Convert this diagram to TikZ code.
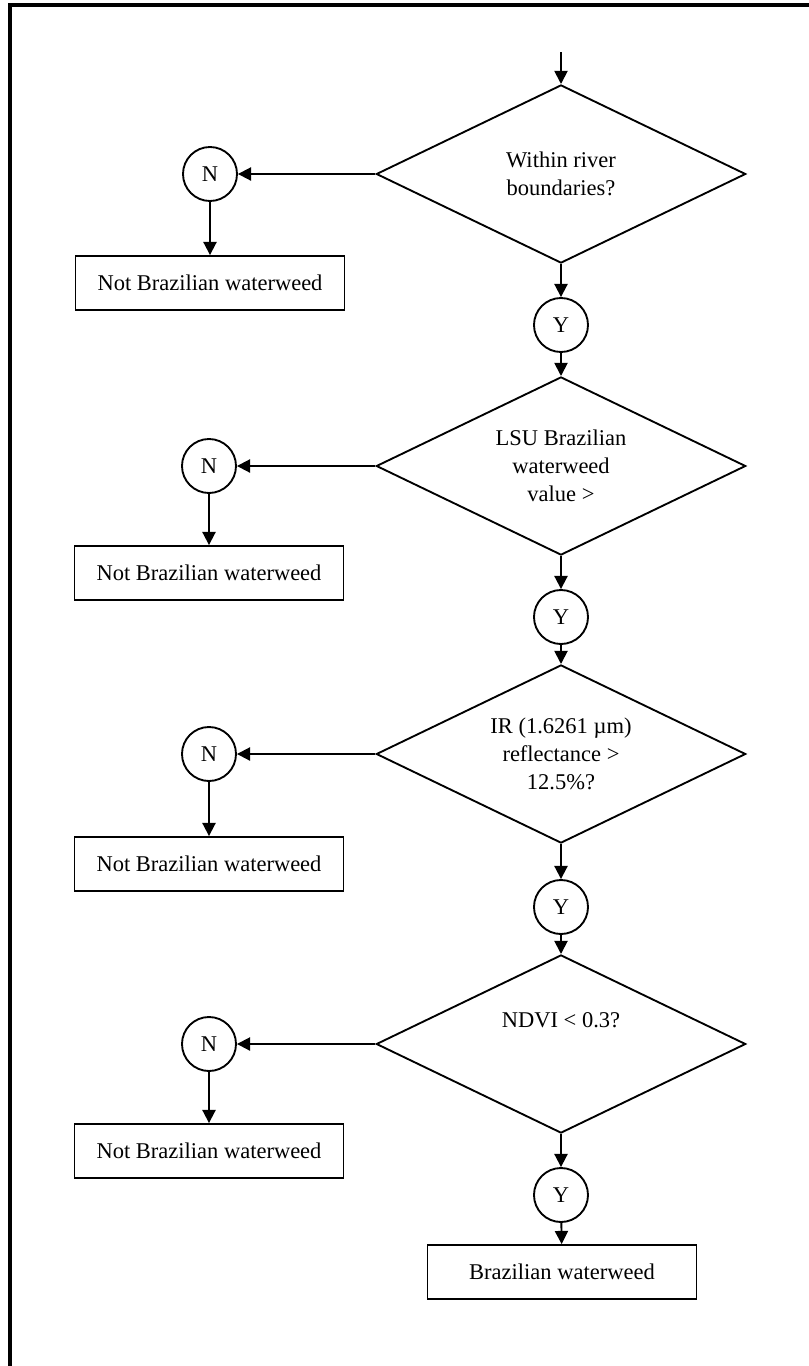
\documentclass[tikz,border=0pt]{standalone}
\usepackage{fontspec}
\setmainfont{Liberation Serif}
\usepackage{tikz}
\usetikzlibrary{positioning,arrows.meta,shapes.geometric}
\tikzset{
decision/.style = {diamond, draw, line width=1pt, aspect=2.08, minimum width=197pt, minimum height=95pt, inner sep=0pt, align=center},
answer/.style = {circle, draw, line width=1pt, minimum size=28.8pt, inner sep=0pt},
result/.style = {rectangle, draw, line width=1pt, minimum width=143.5pt, minimum height=28.8pt, inner sep=0pt},
arr/.style = {line width=1pt, -{Triangle[length=7pt,width=7pt]}}
}
\begin{document}
\begin{tikzpicture}[x=0.5333pt,y=-0.5333pt,
      every node/.style={font=\fontsize{12}{15}\selectfont}]
      \useasboundingbox (0,0) rectangle (809,1366);
      % frame (cut off at right and bottom)
      \draw[line width=1.9pt] (809,5) -- (10,5) -- (10,1366);
      \coordinate (start) at (561,52);
      % decisions
      \node [decision] (d1) at (561,174) {Within river\\boundaries?};
      \node [decision] (d2) at (561,466) {LSU Brazilian\\waterweed\\value >};
      \node [decision] (d3) at (561,754) {IR (1.6261 µm)\\reflectance >\\12.5\%?};
      \node [decision, text depth=26pt] (d4) at (561,1044) {NDVI < 0.3?};
      % yes / no
      \node [answer] (y1) at (561,325) {Y};
      \node [answer] (y2) at (561,617) {Y};
      \node [answer] (y3) at (561,907) {Y};
      \node [answer] (y4) at (561,1195) {Y};
      \node [answer] (n1) at (210,174) {N};
      \node [answer] (n2) at (209,466) {N};
      \node [answer] (n3) at (209,754) {N};
      \node [answer] (n4) at (209,1044) {N};
      % outcomes
      \node [result] (nb1) at (210,283) {Not Brazilian waterweed};
      \node [result] (nb2) at (209,573) {Not Brazilian waterweed};
      \node [result] (nb3) at (209,864) {Not Brazilian waterweed};
      \node [result] (nb4) at (209,1151) {Not Brazilian waterweed};
      \node [result] (bw) at (562,1272) {Brazilian waterweed};
      % connectors
      \draw[arr] (start) -- (d1.north);
      \draw[arr] (d1.south) -- (y1);
      \draw[arr] (y1) -- (d2.north);
      \draw[arr] (d2.south) -- (y2);
      \draw[arr] (y2) -- (d3.north);
      \draw[arr] (d3.south) -- (y3);
      \draw[arr] (y3) -- (d4.north);
      \draw[arr] (d4.south) -- (y4);
      \draw[arr] (y4) -- (bw);
      \draw[arr] (d1.west) -- (n1);
      \draw[arr] (d2.west) -- (n2);
      \draw[arr] (d3.west) -- (n3);
      \draw[arr] (d4.west) -- (n4);
      \draw[arr] (n1) -- (nb1);
      \draw[arr] (n2) -- (nb2);
      \draw[arr] (n3) -- (nb3);
      \draw[arr] (n4) -- (nb4);
    \end{tikzpicture}
\end{document}
